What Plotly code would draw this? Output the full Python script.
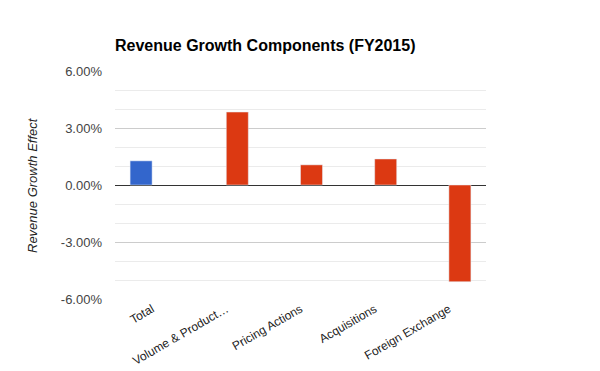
import plotly.graph_objects as go

categories = ["Total", "Volume & Product…", "Pricing Actions", "Acquisitions", "Foreign Exchange"]
total_values = [0.0127, None, None, None, None]
component_values = [None, 0.0384, 0.0106, 0.0137, -0.0509]
y_tickvals = [-0.06, -0.03, 0.0, 0.03, 0.06]
y_ticktext = ["%.2f%%" % (v * 100) for v in y_tickvals]
title_text = "Revenue Growth Components (FY2015)"
y_title = "Revenue Growth Effect"

# page has 8px body margin; figure drawn at (8, 8)
OFF = 8
W, H = 600 - OFF, 371 - OFF
L, R, T, B = 115 - OFF, 114, 71 - OFF, 72

fig = go.Figure()
fig.add_trace(go.Bar(x=categories, y=total_values, marker_color="#3366cc", name="Total"))
fig.add_trace(go.Bar(x=categories, y=component_values, marker_color="#dc3912", name="Components"))

fig.update_layout(
    width=W, height=H,
    margin=dict(l=L, r=R, t=T, b=B, autoexpand=False),
    paper_bgcolor="white", plot_bgcolor="white",
    barmode="group", bargap=0.407, bargroupgap=0,
    showlegend=False,
    font=dict(family="Arial, Liberation Sans, sans-serif", size=13, color="#222222"),
    title=dict(text="<b>" + title_text + "</b>", x=L / W, xref="container", xanchor="left",
               y=1 - (45 - OFF) / H, yref="container", yanchor="middle",
               font=dict(size=16, color="#000000")),
)
fig.update_xaxes(
    type="category", tickangle=-30, showgrid=False, showline=False, ticks="",
    tickfont=dict(size=12, color="#222222"), automargin=False,
)
fig.update_yaxes(
    range=[-0.06, 0.06], tickvals=y_tickvals, ticktext=y_ticktext,
    showgrid=True, gridcolor="#cccccc", gridwidth=1,
    minor=dict(dtick=0.01, tick0=0, showgrid=True, gridcolor="#ebebeb", gridwidth=1, ticks=""),
    zeroline=True, zerolinecolor="#333333", zerolinewidth=1,
    showline=False, ticks="", ticklabelstandoff=12,
    tickfont=dict(size=13, color="#444444"), automargin=False,
)
fig.add_annotation(
    text="<i>" + y_title + "</i>", textangle=-90, showarrow=False,
    xref="paper", yref="paper", x=(32 - OFF - L) / (W - L - R), y=0.5,
    xanchor="center", yanchor="middle", font=dict(size=13, color="#222222"),
)
fig.write_html("out.html")
